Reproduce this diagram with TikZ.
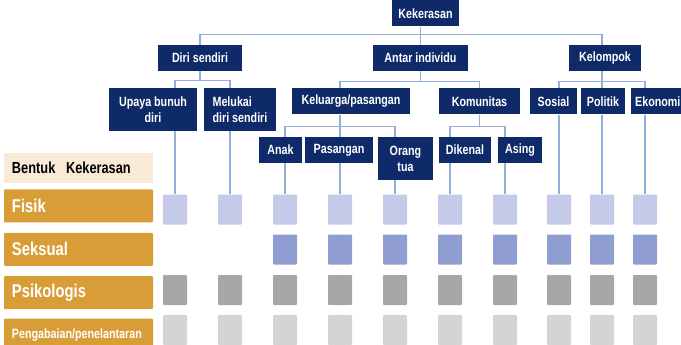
\documentclass[tikz,border=0pt]{standalone}
\usepackage{fontspec}
\setmainfont[FakeStretch=0.8]{Liberation Sans}
\usetikzlibrary{positioning}
\definecolor{navy}{HTML}{0F2A68}
\definecolor{wire}{HTML}{8FB0D8}
\definecolor{gold}{HTML}{D99D38}
\definecolor{cream}{HTML}{F8EAD6}
\definecolor{fisik}{HTML}{C4CAE8}
\definecolor{seks}{HTML}{8F9DD1}
\definecolor{psiko}{HTML}{A6A7A9}
\definecolor{abai}{HTML}{D3D4D4}

\begin{document}
\begin{tikzpicture}[x=1pt,y=-1pt,
  main/.style={fill=navy, text=white, font=\fontsize{13.4}{16}\selectfont\bfseries, minimum height=26pt, inner sep=0pt, align=center},
  tall/.style={main, minimum height=43pt},
  lbl/.style={fill=gold, text=white, font=\fontsize{18.5}{20}\selectfont\bfseries, minimum height=33pt, inner xsep=8pt, inner ysep=0pt, text width=133pt, align=left, rounded corners=1pt},
  sq/.style={minimum width=24pt, minimum height=30pt, inner sep=0pt, rounded corners=0.8pt},
  link/.style={draw=wire, line width=1.4pt}]
            \useasboundingbox (0,0) rectangle (681,345);
            \clip (0,0) rectangle (681,345);

            \node[main, minimum width=67pt] (0) at (425.5,13.5) {Kekerasan};
            \node[main, minimum width=84pt] (1) at (200,58) {Diri sendiri};
            \node[main, minimum width=95pt] (2) at (420.5,58) {Antar individu};
            \node[main, minimum width=72pt] (3) at (605,58) {Kelompok};
            \node[tall, minimum width=88pt] (4) at (153,109.5) {Upaya bunuh\\diri};
            \node[tall, minimum width=72pt, align=left] (5) at (240,109.5) {Melukai\\diri sendiri};
            \node[main, minimum width=118pt] (6) at (351,101.5) {Keluarga/pasangan};
            \node[main, minimum width=81pt] (7) at (479.5,101.5) {Komunitas};
            \node[main, minimum width=47pt] (8) at (553.5,101.5) {Sosial};
            \node[main, minimum width=44pt] (9) at (603,101.5) {Politik};
            \node[main, anchor=west, inner xsep=4pt, text width=48pt, align=left] (10) at (631,101.5) {Ekonomi};
            \node[main, minimum width=43pt] (11) at (280.5,150) {Anak};
            \node[main, minimum width=68pt] (12) at (339,150) {Pasangan};
            \node[tall, minimum width=55pt] (13) at (405.5,158.5) {Orang\\tua};
            \node[main, minimum width=52pt] (14) at (465,150) {Dikenal};
            \node[main, minimum width=44pt] (15) at (520,150) {Asing};

            % rows on the left
            \node[lbl, fill=cream, text=black, font=\fontsize{16}{18}\selectfont\bfseries, minimum height=30pt, rounded corners=0pt] (b) at (78.5,168) {Bentuk\ \ Kekerasan};
            \node[lbl] (fis) [below=6pt of b] {Fisik};
            \node[lbl] (sek) [below=10pt of fis] {Seksual};
            \node[lbl] (psi) [below=10pt of sek] {Psikologis};
            \node[lbl, font=\fontsize{13.4}{15}\selectfont\bfseries] (pen) [below=9pt of psi] {Pengabaian/penelantaran};

            % squares
            \foreach \x [count=\i] in {175,230,285,340,395,450,505,559,602,645} {
              \node[sq, fill=fisik] (f\i) at (\x,209.5) {};
              \ifnum\i>2 \node[sq, fill=seks] (s\i) at (\x,249.5) {}; \fi
              \node[sq, fill=psiko] (p\i) at (\x,290) {};
              \node[sq, fill=abai] (a\i) at (\x,330) {};
            }

            \draw[link] (1.north) -- ++(0,-10) -| (3.north -| f9);
            \draw[link] (2.north) -- (2.north |- 0.south);
            \draw[link] (1.south) -- ++(0,10);
            \draw[link] (4.north -| f1) -- ++(0,-7) -| (5.north -| f2);
            \draw[link] (2.south) -- ++(0,10);
            \draw[link] (6.north -| f4) -- ++(0,-7) -| (7.north);
            \draw[link] (3.south -| f9) -- (9.north -| f9);
            \draw[link] (8.north -| f8) -- ++(0,-7) -| (10.north -| f10);
            \draw[link] (6.south -| f4) -- (12.north -| f4);
            \draw[link] (11.north -| f3) -- ++(0,-10) -| (13.north -| f5);
            \draw[link] (7.south) -- ++(0,12);
            \draw[link] (14.north -| f6) -- ++(0,-10) -| (15.north -| f7);
            \foreach \n/\c in {4/1,5/2,11/3,12/4,13/5,14/6,15/7,8/8,9/9,10/10}
              \draw[link] (f\c.north) -- (f\c.north |- \n.south);
          \end{tikzpicture}
\end{document}
